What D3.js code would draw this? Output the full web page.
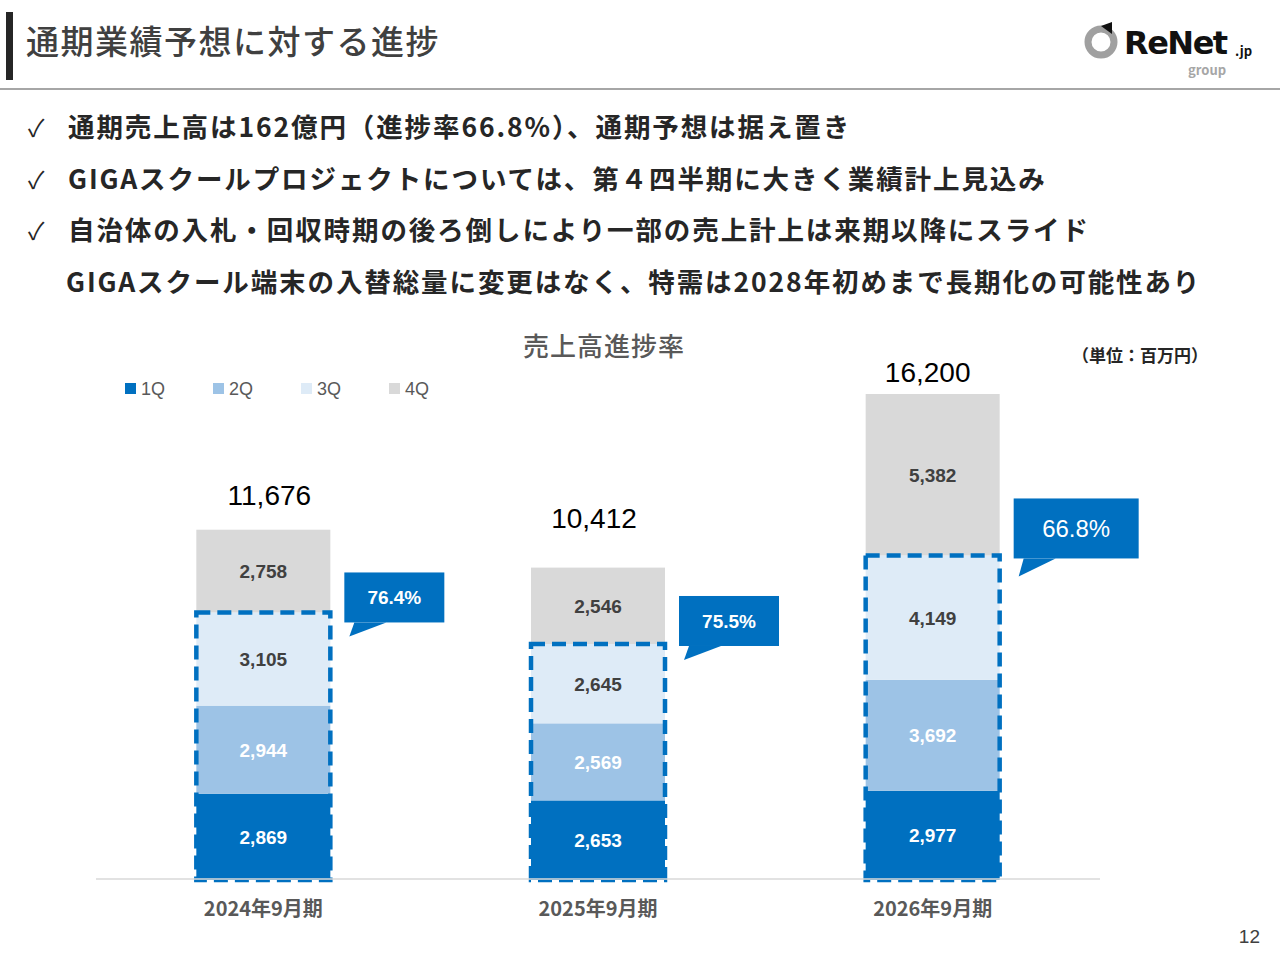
<!DOCTYPE html>
<html><head><meta charset="utf-8">
<script src="https://cdn.jsdelivr.net/npm/d3@7"></script>
<style>body{margin:0;background:#fff;font-family:"Noto Sans CJK JP","Noto Sans",sans-serif;}</style>
</head><body>
<script>
const periods = ["2024年9月期", "2025年9月期", "2026年9月期"];
const quarters = ["1Q", "2Q", "3Q", "4Q"];
const q1 = [2869, 2653, 2977];
const q2 = [2944, 2569, 3692];
const q3 = [3105, 2645, 4149];
const q4 = [2758, 2546, 5382];
const totals = [11676, 10412, 16200];
const progress = ["76.4%", "75.5%", "66.8%"];
const bullets = [
  "通期売上高は162億円（進捗率66.8%）、通期予想は据え置き",
  "GIGAスクールプロジェクトについては、第４四半期に大きく業績計上見込み",
  "自治体の入札・回収時期の後ろ倒しにより一部の売上計上は来期以降にスライド",
  "GIGAスクール端末の入替総量に変更はなく、特需は2028年初めまで長期化の可能性あり"
];
const colors = ["#0070c0", "#9dc3e6", "#deebf7", "#d9d9d9"];
const labelColors = ["#fff", "#fff", "#404040", "#404040"];
// label placement tweaks per bar (as laid out in the slide)
const totalLift = [25, 40, 12];
const totalShift = [6, -4, -5];
const calloutLift = [40, 48, 57];

const svg = d3.select("body").append("svg").attr("width", 1280).attr("height", 960);

// header
svg.append("rect").attr("x", 6).attr("y", 12).attr("width", 7).attr("height", 68).attr("fill", "#262626");
svg.append("text").attr("x", 26).attr("y", 54).attr("font-size", 33).attr("font-weight", 500)
  .attr("letter-spacing", 1.5).attr("fill", "#404040").text("通期業績予想に対する進捗");
svg.append("line").attr("x1", 0).attr("x2", 1280).attr("y1", 89).attr("y2", 89).attr("stroke", "#a6a6a6").attr("stroke-width", 2);
// logo
svg.append("circle").attr("cx", 1101).attr("cy", 42).attr("r", 13).attr("fill", "none").attr("stroke", "#a0a0a0").attr("stroke-width", 7);
svg.append("path").attr("d", "M1101,26 L1112,22 L1112,34 Z").attr("fill", "#111");
svg.append("text").attr("x", 1124).attr("y", 54).attr("font-size", 32).attr("font-weight", 900)
  .attr("font-family", "DejaVu Sans").attr("fill", "#111").attr("letter-spacing", -1.5).text("ReNet");
svg.append("text").attr("x", 1235).attr("y", 56).attr("font-size", 13).attr("font-weight", 700).attr("fill", "#111").text(".jp");
svg.append("text").attr("x", 1188).attr("y", 75).attr("font-size", 13).attr("font-weight", 700).attr("fill", "#a6a6a6").text("group");

bullets.forEach((b, i) => {
  const yy = 137 + i * 51.5;
  if (i < 3) svg.append("text").attr("x", 28).attr("y", yy).attr("font-size", 24).attr("fill", "#262626").text("✓");
  svg.append("text").attr("x", i < 3 ? 68 : 66).attr("y", yy).attr("font-size", 26.5).attr("font-weight", 700)
    .attr("letter-spacing", 1.9).attr("fill", "#262626").text(b);
});

// chart
svg.append("text").attr("x", 604).attr("y", 356).attr("text-anchor", "middle").attr("font-size", 26)
  .attr("font-weight", 500).attr("letter-spacing", 1).attr("fill", "#595959").text("売上高進捗率");
svg.append("text").attr("x", 1140).attr("y", 362).attr("text-anchor", "middle").attr("font-size", 17)
  .attr("font-weight", 700).attr("fill", "#262626").text("（単位：百万円）");

const lg = svg.selectAll("g.lg").data(quarters).enter().append("g")
  .attr("transform", (d, i) => `translate(${125 + i * 88},389)`);
lg.append("rect").attr("y", -6).attr("width", 11).attr("height", 11).attr("fill", (d, i) => colors[i]);
lg.append("text").attr("x", 16).attr("y", 6).attr("font-size", 18).attr("fill", "#595959").attr("font-family", "Liberation Sans").text(d => d);

const x = d3.scalePoint().domain(periods).range([96, 1100]).padding(0.5);
const bw = 134;
const y = d3.scaleLinear().domain([0, 16200]).range([880, 394]);

const series = [q1, q2, q3, q4];
periods.forEach((p, j) => {
  let acc = 0;
  const x0 = x(p) - bw / 2;
  series.forEach((s, i) => {
    const v = s[j];
    svg.append("rect").attr("x", x0).attr("width", bw).attr("y", y(acc + v)).attr("height", y(acc) - y(acc + v)).attr("fill", colors[i]);
    svg.append("text").attr("x", x0 + bw / 2).attr("y", y(acc + v / 2) + 7).attr("text-anchor", "middle")
      .attr("font-size", 19).attr("font-weight", 700).attr("font-family", "Liberation Sans")
      .attr("fill", labelColors[i]).text(d3.format(",")(v));
    acc += v;
  });
  const top3 = q1[j] + q2[j] + q3[j];
  svg.append("rect").attr("x", x0).attr("y", y(top3)).attr("width", bw).attr("height", y(0) - y(top3))
    .attr("fill", "none").attr("stroke", "#0070c0").attr("stroke-width", 4.5).attr("stroke-dasharray", "14,7");
  svg.append("text").attr("x", x(p) + totalShift[j]).attr("y", y(totals[j]) - totalLift[j]).attr("text-anchor", "middle")
    .attr("font-size", 28).attr("font-family", "Liberation Sans").attr("fill", "#000").text(d3.format(",")(totals[j]));
  // callout
  const big = j === 2;
  const cw = big ? 125 : 100, ch = big ? 60 : 50;
  const cx = x0 + bw + 14;
  const cy = y(top3) - calloutLift[j];
  svg.append("path").attr("d", `M${cx + 10},${cy + ch} L${cx + 5},${cy + ch + (big ? 18 : 14)} L${cx + 42},${cy + ch} Z`).attr("fill", "#0070c0");
  svg.append("rect").attr("x", cx).attr("y", cy).attr("width", cw).attr("height", ch).attr("fill", "#0070c0");
  svg.append("text").attr("x", cx + cw / 2).attr("y", cy + ch / 2 + (big ? 9 : 7)).attr("text-anchor", "middle")
    .attr("font-size", big ? 24 : 19).attr("font-weight", big ? 400 : 700).attr("font-family", "Liberation Sans")
    .attr("fill", "#fff").text(progress[j]);
});

svg.append("line").attr("x1", 96).attr("x2", 1100).attr("y1", 879).attr("y2", 879).attr("stroke", "#d9d9d9").attr("stroke-width", 1.5);
svg.selectAll("text.xl").data(periods).enter().append("text").attr("class", "xl")
  .attr("x", d => x(d)).attr("y", 916).attr("text-anchor", "middle").attr("font-size", 20)
  .attr("font-weight", 700).attr("fill", "#595959").text(d => d);
svg.append("text").attr("x", 1260).attr("y", 943).attr("text-anchor", "end").attr("font-size", 19)
  .attr("fill", "#404040").attr("font-family", "Liberation Sans").text("12");
</script>
</body></html>
